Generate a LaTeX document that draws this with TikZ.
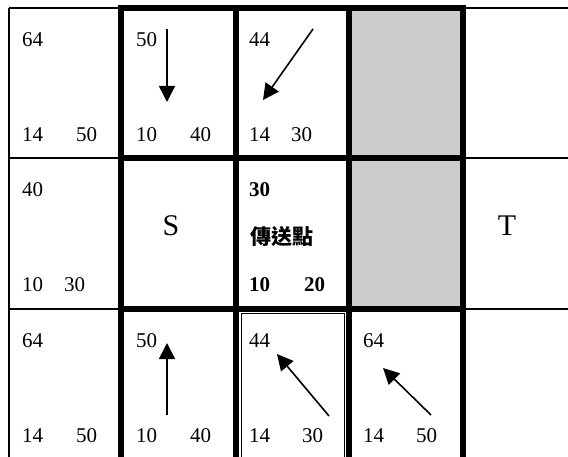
\documentclass[tikz,border=0pt]{standalone}
\usepackage{fontspec}
\setmainfont{Liberation Serif}
\newfontfamily\cjk{Noto Sans CJK TC}
\usetikzlibrary{arrows.meta}

\tikzset{
  cellline/.style={line width=1.7pt},
  cellbox/.style={line width=5.5pt},
  num/.style={anchor=base west,inner sep=0pt,font=\fontsize{21}{21}\selectfont},
  boldnum/.style={num,font=\fontsize{21}{21}\selectfont\bfseries},
  endpoint/.style={inner sep=0pt,font=\fontsize{30}{30}\selectfont},
  move/.style={line width=1.6pt,-{Triangle[length=16pt,width=16pt]}}
}

\begin{document}
\begin{tikzpicture}[x=1pt,y=-1pt]
\clip (0,0) rectangle (568,457);
\fill[white] (0,0) rectangle (568,457);
\fill[black!20] (349,8) rectangle (463,309);

% thin grid
\draw[cellline] (9,8) -- (580,8);
\draw[cellline] (9,158) -- (580,158);
\draw[cellline] (9,309) -- (580,309);
\draw[cellline] (9,8) -- (9,470);
\draw[cellline] (121,8) -- (121,470);
\draw[cellline] (236,8) -- (236,470);
\draw[cellline] (349,8) -- (349,470);
\draw[cellline] (463,8) -- (463,470);

% thick cells
\draw[cellbox] (121,8) rectangle (236,158);
\draw[cellbox] (236,8) rectangle (349,158);
\draw[cellbox] (349,8) rectangle (463,158);
\draw[cellbox] (121,158) rectangle (236,309);
\draw[cellbox] (236,158) rectangle (349,309);
\draw[cellbox] (349,158) rectangle (463,309);
\draw[cellbox] (121,309) rectangle (236,470);
\draw[cellbox] (349,309) rectangle (463,470);
\draw[cellline,line width=1pt] (241,314) rectangle (344.5,470);

% row 1
\node[num] (f11) at (22,47) {64};
\node[num] (g11) at (22,142) {14};
\node[num] (h11) at (76,142) {50};
\node[num] (f12) at (136,47) {50};
\node[num] (g12) at (136,142) {10};
\node[num] (h12) at (190,142) {40};
\node[num] (f13) at (249,47) {44};
\node[num] (g13) at (249,142) {14};
\node[num] (h13) at (291,142) {30};

% row 2
\node[num] (f21) at (22,197) {40};
\node[num] (g21) at (22,292) {10};
\node[num] (h21) at (64,292) {30};
\node[endpoint] (start) at (171,226) {S};
\node[boldnum] (f23) at (249,197) {30};
\node[anchor=west,inner sep=0pt,font=\fontsize{21}{21}\selectfont\cjk\bfseries] (tele) at (250,237) {傳送點};
\node[boldnum] (g23) at (249,292) {10};
\node[boldnum] (h23) at (304,292) {20};
\node[endpoint] (goal) at (507,226) {T};

% row 3
\node[num] (f31) at (22,347) {64};
\node[num] (g31) at (22,442) {14};
\node[num] (h31) at (76,442) {50};
\node[num] (f32) at (136,347) {50};
\node[num] (g32) at (136,442) {10};
\node[num] (h32) at (190,442) {40};
\node[num] (f33) at (249,347) {44};
\node[num] (g33) at (249,442) {14};
\node[num] (h33) at (302,442) {30};
\node[num] (f34) at (363,347) {64};
\node[num] (g34) at (363,442) {14};
\node[num] (h34) at (416,442) {50};

% parent arrows
\coordinate (p12a) at (167,29);
\coordinate (p12b) at (167,102);
\coordinate (p13a) at (313,29);
\coordinate (p13b) at (263,100);
\coordinate (p32a) at (167,415);
\coordinate (p32b) at (167,343);
\coordinate (p33a) at (329,416);
\coordinate (p33b) at (277,354);
\coordinate (p34a) at (431,415);
\coordinate (p34b) at (383,368);
\draw[move] (p12a) -- (p12b);
\draw[move] (p13a) -- (p13b);
\draw[move] (p32a) -- (p32b);
\draw[move] (p33a) -- (p33b);
\draw[move] (p34a) -- (p34b);

\end{tikzpicture}
\end{document}
